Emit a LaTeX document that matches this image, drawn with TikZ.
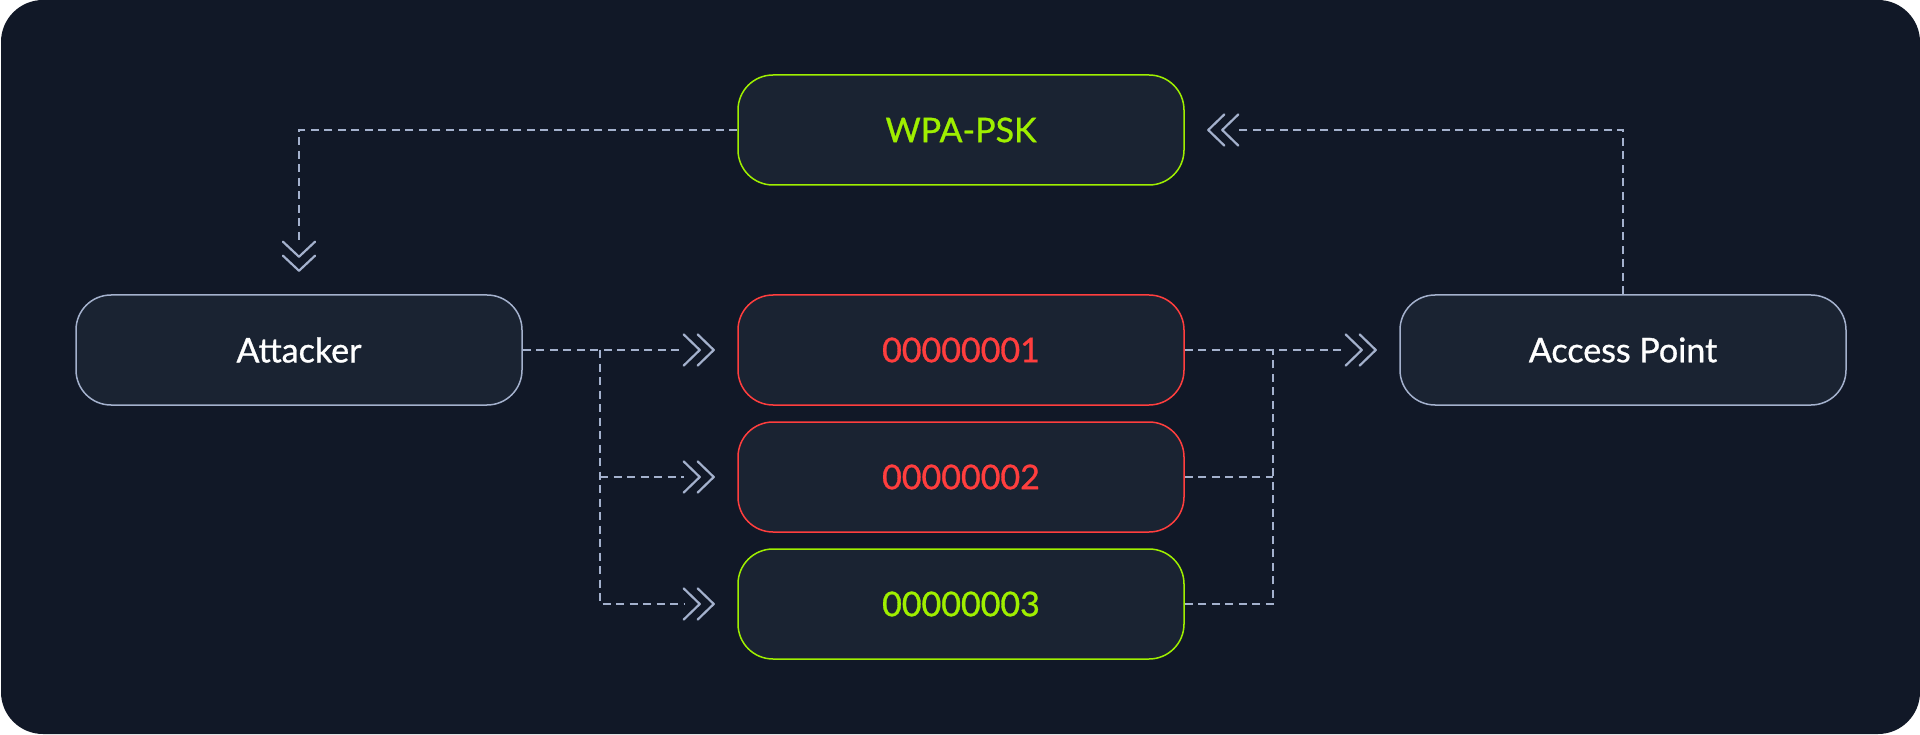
\documentclass[tikz,border=0pt]{standalone}
\usepackage{fontspec}
\setmainfont{Lato}
\newfontfamily\labfont[FakeBold=0.9]{Lato}
\definecolor{bgc}{HTML}{111827}
\definecolor{boxc}{HTML}{1A2332}
\definecolor{edgec}{HTML}{A4B1CD}
\definecolor{htbgreen}{HTML}{9FEF00}
\definecolor{htbred}{HTML}{FF3E3E}
\tikzset{
  nbox/.style={draw=edgec, rounded corners=35pt, fill=boxc, line width=1.5pt,
    minimum width=446pt, minimum height=110pt, inner sep=0pt,
    font=\labfont\fontsize{34}{40}\selectfont},
  conn/.style={draw=edgec, line width=1.6pt, dash pattern=on 8pt off 5.5pt},
  chevline/.style={draw=edgec, line width=2.2pt, line cap=round, line join=round},
  chevR/.pic={\draw[chevline] (-30,-15.5) -- (-14,0) -- (-30,15.5) (-16,-15.5) -- (0,0) -- (-16,15.5);},
  chevL/.pic={\draw[chevline] (30,-15.5) -- (14,0) -- (30,15.5) (16,-15.5) -- (0,0) -- (16,15.5);},
  chevD/.pic={\draw[chevline] (-16,-29) -- (0,-14) -- (16,-29) (-16,-15) -- (0,0) -- (16,-15);},
}
\begin{document}
\begin{tikzpicture}[x=1pt,y=-1pt]
\useasboundingbox (0,0) rectangle (1920,735);
\fill[white] (0,0) rectangle (1920,735);
\fill[bgc, rounded corners=42pt] (1,0) rectangle (1920,734);

\node[nbox, draw=htbgreen, text=htbgreen] (wpa) at (961,130) {WPA-PSK};
\node[nbox, text=white] (att) at (299,350) {Attacker};
\node[nbox, text=white] (ap) at (1623,350) {Access Point};
\node[nbox, draw=htbred, text=htbred] (b1) at (961,350) {00000001};
\node[nbox, draw=htbred, text=htbred] (b2) at (961,477) {00000002};
\node[nbox, draw=htbgreen, text=htbgreen] (b3) at (961,604) {00000003};

\coordinate (tD) at ([yshift=23.5pt]att.north);
\coordinate (eD) at ([yshift=53pt]att.north);
\coordinate (tL) at ([xshift=23.5pt]wpa.east);
\coordinate (eL) at ([xshift=53pt]wpa.east);
\coordinate (t1) at ([xshift=-23.5pt]b1.west);
\coordinate (e1) at ([xshift=-53pt]b1.west);
\coordinate (t2) at ([xshift=-23.5pt]b2.west);
\coordinate (e2) at ([xshift=-53pt]b2.west);
\coordinate (t3) at ([xshift=-23.5pt]b3.west);
\coordinate (e3) at ([xshift=-53pt]b3.west);
\coordinate (tAP) at ([xshift=-23.5pt]ap.west);
\coordinate (eAP) at ([xshift=-53pt]ap.west);
\coordinate (jL) at (600,350);
\coordinate (jR) at (1273,350);

\draw[conn] (wpa.west) -| (eD);
\pic at (tD) {chevD};
\draw[conn] (ap.north) |- (eL);
\pic at (tL) {chevL};

\draw[conn] (att.east) -- (e1);
\draw[conn] (jL) |- (e3);
\draw[conn] (jL |- b2) -- (e2);
\pic at (t1) {chevR};
\pic at (t2) {chevR};
\pic at (t3) {chevR};

\draw[conn] (b1.east) -- (eAP);
\draw[conn] (b2.east) -- (jR |- b2);
\draw[conn] (b3.east) -| (jR);
\pic at (tAP) {chevR};
\end{tikzpicture}
\end{document}
